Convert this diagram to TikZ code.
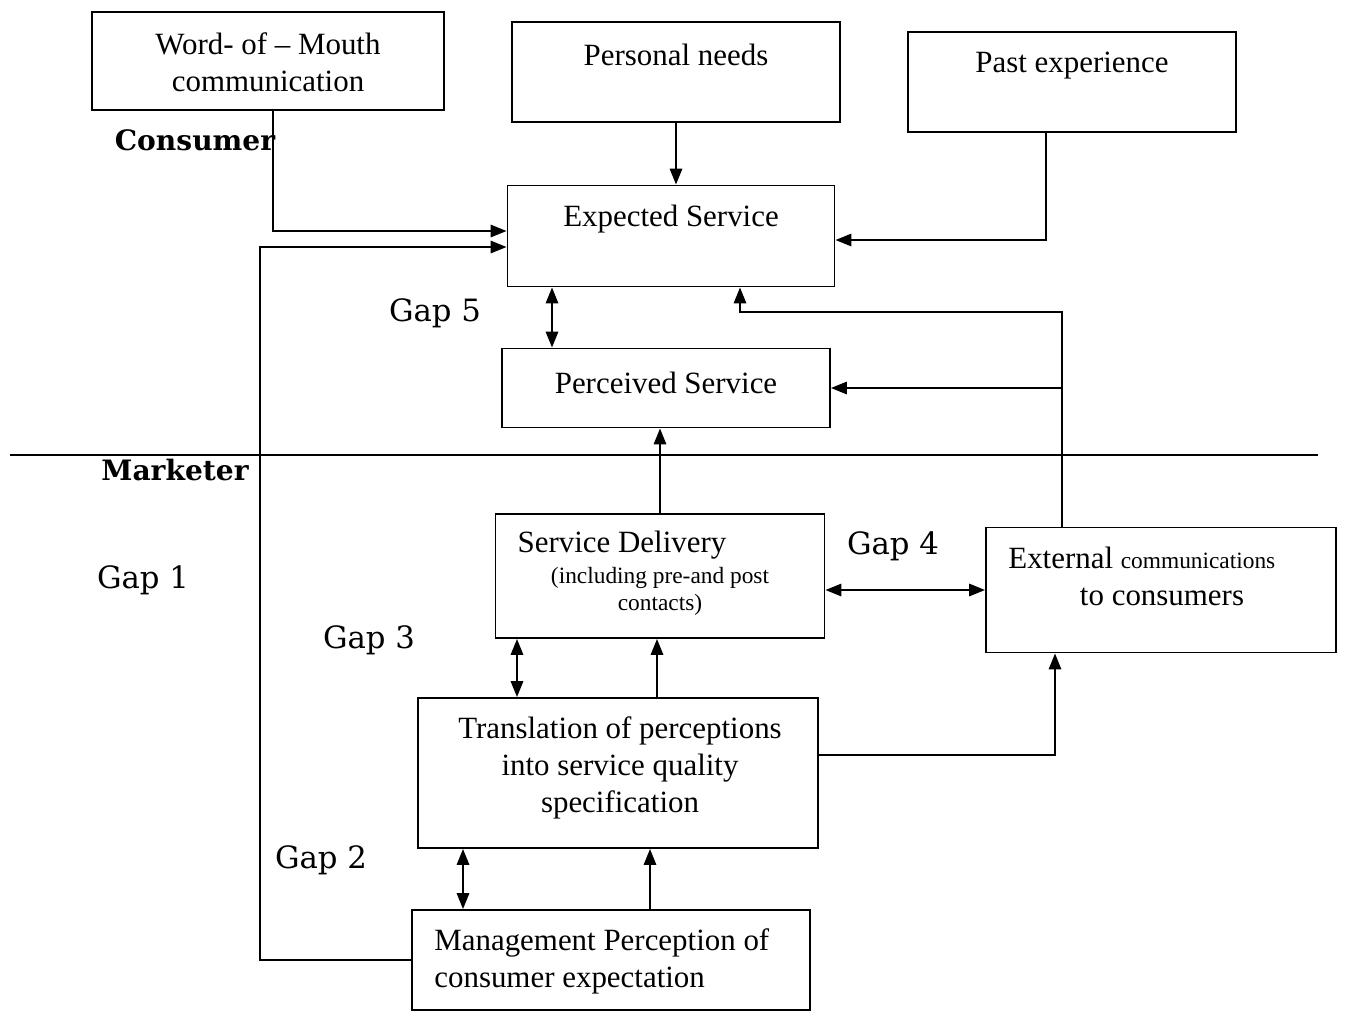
\documentclass[tikz,border=0pt]{standalone}
\usepackage{fontspec}
\setmainfont{Liberation Serif}
\newfontfamily\gapfont{DejaVu Serif}
\usepackage{tikz}
\usetikzlibrary{arrows.meta, positioning, calc}

\begin{document}
\begin{tikzpicture}[
  x=0.02cm, y=-0.02cm,
  box/.style={rectangle, draw, line width=1.1pt, inner sep=0pt},
  txt/.style={font=\fontsize{17.6}{21}\selectfont, align=center, inner sep=0pt},
  small/.style={font=\fontsize{13.3}{15.5}\selectfont, align=center, inner sep=0pt},
  gaplab/.style={font=\gapfont\fontsize{17.5}{20}\selectfont, inner sep=0pt},
  side/.style={font=\gapfont\bfseries\fontsize{16}{19}\selectfont, inner sep=0pt},
  arr/.style={line width=1.1pt, -{Triangle[length=9pt,width=7pt]}},
  darr/.style={line width=1.1pt, {Triangle[length=9pt,width=7pt]}-{Triangle[length=9pt,width=7pt]}},
]
\useasboundingbox (0,0) rectangle (1346,1012);

\node[box, minimum width=352*0.02cm, minimum height=98*0.02cm] (wom) at (268,61) {};
\node[txt] (womT) at (268,62) {Word- of -- Mouth\\communication};
\node[box, minimum width=328*0.02cm, minimum height=100*0.02cm] (pers) at (676,72) {};
\node[txt] (persT) at (676,55) {Personal needs};
\node[box, minimum width=328*0.02cm, minimum height=100*0.02cm] (past) at (1072,82) {};
\node[txt] (pastT) at (1072,66) {Past experience};

\node[side] (cons) at (195,140) {Consumer};

\node[box, minimum width=327*0.02cm, minimum height=101*0.02cm] (exp) at (671,236) {};
\node[txt] (expT) at (671,219) {Expected Service};
\node[box, minimum width=328*0.02cm, minimum height=79*0.02cm] (perc) at (666,388) {};
\node[txt] (percT) at (666,383) {Perceived Service};

\draw[line width=1.1pt] (10,455) -- (1318,455);
\node[side] (mark) at (175,470) {Marketer};

\node[box, minimum width=329*0.02cm, minimum height=124*0.02cm] (sd) at (660,576) {};
\node[txt] (sdT) at (622,545) {Service Delivery};
\node[small] (sdS) at (660,591) {(including pre-and post\\contacts)};
\node[box, minimum width=350*0.02cm, minimum height=125*0.02cm] (ext) at (1161,590) {};
\node[txt, anchor=west] (extT) at (1008,558) {External {\fontsize{13.3}{15.5}\selectfont communications}};
\node[txt] (extS) at (1162,597) {to consumers};

\node[box, minimum width=400*0.02cm, minimum height=150*0.02cm] (tr) at (618,773) {};
\node[txt] (trT) at (620,768) {Translation of perceptions\\into service quality\\specification};
\node[box, minimum width=398*0.02cm, minimum height=100*0.02cm] (mgmt) at (611,960) {};
\node[txt, align=left, anchor=west] (mgmtT) at (434,961) {Management Perception of\\consumer expectation};

\node[gaplab] (g5) at (435,313) {Gap 5};
\node[gaplab] (g1) at (143,580) {Gap 1};
\node[gaplab] (g4) at (893,546) {Gap 4};
\node[gaplab] (g3) at (369,640) {Gap 3};
\node[gaplab] (g2) at (321,860) {Gap 2};

\coordinate (expin1) at ($(exp.west)+(0,-5)$);
\coordinate (expin2) at ($(exp.west)+(0,11)$);
\coordinate (lft) at (260,0);
\coordinate (womout) at ($(wom.south)+(5,0)$);
\coordinate (pastout) at ($(past.south)+(-26,0)$);
\coordinate (expin3) at ($(exp.east)+(0,4)$);
\coordinate (g5a) at ($(exp.south)+(-119,0)$);
\coordinate (fbup) at ($(ext.north)+(-99,0)$);
\coordinate (fb) at (1062,312);
\coordinate (fbin) at ($(exp.south)+(69,0)$);
\coordinate (g3a) at ($(sd.south)+(-143,0)$);
\coordinate (trout) at ($(tr.north)+(39,0)$);
\coordinate (trside) at ($(tr.east)+(0,-18)$);
\coordinate (extin) at ($(ext.south)+(-106,0)$);
\coordinate (g2a) at ($(tr.south)+(-155,0)$);
\coordinate (mgout) at ($(mgmt.north)+(39,0)$);

\draw[arr] (womout) |- (expin1);
\draw[arr] (mgmt.west) -- (mgmt.west -| lft) -- (lft |- expin2) -- (expin2);
\draw[arr] (pers.south) -- (pers.south |- exp.north);
\draw[arr] (pastout) |- (expin3);
\draw[darr] (g5a) -- (g5a |- perc.north);
\draw[arr] (fbup) -- (fb) -| (fbin);
\draw[arr] (fbup |- perc.east) -- (perc.east);
\draw[arr] (sd.north) -- (sd.north |- perc.south);
\draw[darr] (ext.west -| sd.east) -- (ext.west);
\draw[darr] (g3a) -- (g3a |- tr.north);
\draw[arr] (trout) -- (trout |- sd.south);
\draw[arr] (trside) -| (extin);
\draw[darr] (g2a) -- (g2a |- mgmt.north);
\draw[arr] (mgout) -- (mgout |- tr.south);
\end{tikzpicture}
\end{document}
